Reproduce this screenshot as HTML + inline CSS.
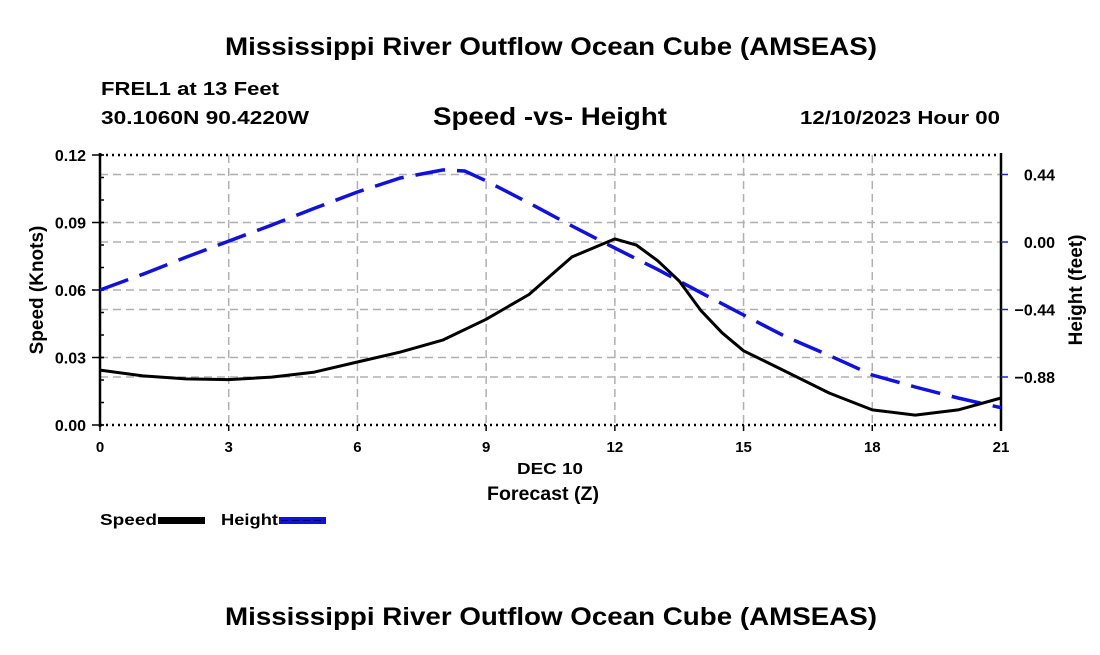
<!DOCTYPE html>
<html><head><meta charset="utf-8"><style>
body{margin:0;background:#fff;}
svg text{font-family:"Liberation Sans",sans-serif;font-weight:bold;fill:#000;}
</style></head><body>
<svg id="chart" width="1100" height="650" viewBox="0 0 1100 650">
<text x="225" y="55" font-size="25" textLength="652" lengthAdjust="spacingAndGlyphs">Mississippi River Outflow Ocean Cube (AMSEAS)</text>
<text x="101" y="95" font-size="18" textLength="178" lengthAdjust="spacingAndGlyphs">FREL1 at 13 Feet</text>
<text x="101" y="124" font-size="18" textLength="208" lengthAdjust="spacingAndGlyphs">30.1060N  90.4220W</text>
<text x="433" y="125" font-size="25" textLength="234" lengthAdjust="spacingAndGlyphs">Speed -vs- Height</text>
<text x="800" y="124" font-size="18" textLength="200" lengthAdjust="spacingAndGlyphs">12/10/2023 Hour 00</text>
<g id="grid"></g>
<g id="axes"></g>
<g id="series"></g>
<text x="517" y="474" font-size="16" textLength="66" lengthAdjust="spacingAndGlyphs">DEC 10</text>
<text x="487" y="500" font-size="19" textLength="112" lengthAdjust="spacingAndGlyphs">Forecast (Z)</text>
<text transform="translate(43,290) rotate(-90)" font-size="19" text-anchor="middle">Speed (Knots)</text>
<text transform="translate(1082,290) rotate(-90)" font-size="19" text-anchor="middle">Height (feet)</text>
<g>
<text x="100" y="525" font-size="16" textLength="57" lengthAdjust="spacingAndGlyphs">Speed</text>
<rect x="158" y="517" width="47" height="7" fill="#000"/>
<text x="221" y="525" font-size="16" textLength="57" lengthAdjust="spacingAndGlyphs">Height</text>
<rect x="279" y="517" width="47" height="7" fill="#1010e0"/>
<line x1="281" y1="520.5" x2="324" y2="520.5" stroke="#000060" stroke-width="1" stroke-dasharray="7,4"/>
</g>
<text x="225" y="625" font-size="25" textLength="652" lengthAdjust="spacingAndGlyphs">Mississippi River Outflow Ocean Cube (AMSEAS)</text>
</svg>
<script>
const hours = [0,1,2,3,4,5,6,7,8,9,10,11,12,12.5,13,13.5,14,14.5,15,16,17,18,19,20,21];
const speedValues = [0.0244,0.0218,0.0205,0.0202,0.0213,0.0235,0.028,0.0324,0.0378,0.047,0.058,0.0747,0.0827,0.080,0.073,0.064,0.051,0.041,0.033,0.0236,0.0142,0.0067,0.0044,0.0067,0.012];
const heightHours = [0,1,2,3,4,5,6,7,8,8.5,9,10,11,12,13,14,15,16,17,18,19,20,21];
const heightValues = [-0.313,-0.21,-0.1,0.006,0.11,0.22,0.326,0.417,0.47,0.463,0.398,0.254,0.104,-0.04,-0.18,-0.33,-0.476,-0.62,-0.74,-0.867,-0.945,-1.017,-1.08];
const xTicks = [0,3,6,9,12,15,18,21];
const speedTicks = [0,0.03,0.06,0.09,0.12];
const speedTickLabels = ["0.00","0.03","0.06","0.09","0.12"];
const heightTicks = [0.44,0,-0.44,-0.88];
const heightTickLabels = ["0.44","0.00","\u22120.44","\u22120.88"];

const L=100,R=1001,T=155,B=425;
const xs=h=>L+(h/21)*(R-L);
const ys=v=>B-(v/0.12)*(B-T);
const yh=v=>242-(v/0.44)*67.5;
const NS='http://www.w3.org/2000/svg';
function mk(tag,attrs,parent){const e=document.createElementNS(NS,tag);for(const k in attrs)e.setAttribute(k,attrs[k]);parent.appendChild(e);return e;}
const grid=document.getElementById('grid'),axes=document.getElementById('axes'),series=document.getElementById('series');
const gs={stroke:'#b0b0b0','stroke-width':1.5,'stroke-dasharray':'8,5'};
xTicks.forEach(t=>{if(t>0&&t<21){const l=mk('line',Object.assign({x1:xs(t),x2:xs(t),y1:T,y2:B},gs),grid);

}});
speedTicks.forEach(t=>{if(t>0&&t<0.12){const l=mk('line',Object.assign({x1:L,x2:R,y1:ys(t),y2:ys(t)},gs),grid);

}});
heightTicks.forEach(t=>{const l=mk('line',Object.assign({x1:L,x2:R,y1:yh(t),y2:yh(t)},gs),grid);

});
mk('line',{x1:L,x2:R,y1:T,y2:T,stroke:'#000','stroke-width':2.5,'stroke-dasharray':'2,4'},axes);
mk('line',{x1:L,x2:R,y1:B,y2:B,stroke:'#000','stroke-width':2.5,'stroke-dasharray':'2,4'},axes);
mk('line',{x1:L,x2:L,y1:T-2,y2:B+2,stroke:'#000','stroke-width':2.5},axes);
mk('line',{x1:R,x2:R,y1:T-2,y2:B+6,stroke:'#000','stroke-width':2.5},axes);
for(let v=0;v<=0.1201;v+=0.01){mk('line',{x1:L,x2:L+4,y1:ys(v),y2:ys(v),stroke:'#000','stroke-width':1.5},axes);}
speedTicks.forEach((t,i)=>{mk('line',{x1:L-8,x2:L+4,y1:ys(t),y2:ys(t),stroke:'#000','stroke-width':1.5},axes);
const tx=mk('text',{x:L-14,y:ys(t)+6,'font-size':16,'text-anchor':'end'},axes);tx.textContent=speedTickLabels[i];

});
heightTicks.forEach((t,i)=>{mk('line',{x1:R,x2:R+7,y1:yh(t),y2:yh(t),stroke:'#2020d0','stroke-width':1.5},axes);
const tx=mk('text',{x:1055,y:yh(t)+6,'font-size':16,'text-anchor':'end'},axes);tx.textContent=heightTickLabels[i];

});
xTicks.forEach(t=>{mk('line',{x1:xs(t),x2:xs(t),y1:B,y2:B+6,stroke:'#000','stroke-width':1.5},axes);
const tx=mk('text',{x:xs(t),y:B+27,'font-size':15,'text-anchor':'middle'},axes);tx.textContent=t;

});
function path(xsArr,vals,fy){return vals.map((v,i)=>(i?'L':'M')+xs(xsArr[i]).toFixed(1)+','+fy(v).toFixed(1)).join(' ');}
const hp=mk('path',{d:path(heightHours,heightValues,yh),fill:'none',stroke:'#1010e0','stroke-width':3.5,'stroke-dasharray':'30,12'},series);


const sp=mk('path',{d:path(hours,speedValues,ys),fill:'none',stroke:'#000','stroke-width':3,'stroke-linejoin':'round'},series);


</script>
</body></html>
